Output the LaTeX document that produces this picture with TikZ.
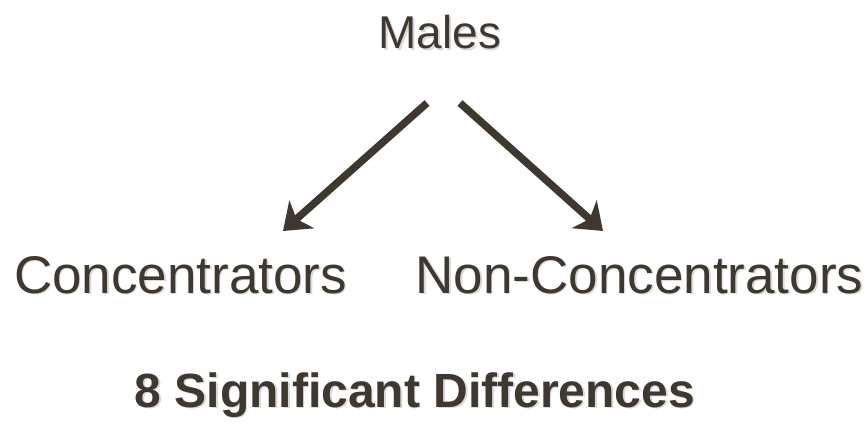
\documentclass[tikz,border=0pt]{standalone}
\usepackage{fontspec}
\setmainfont{Liberation Sans}
\usepackage{xcolor}
\usepackage{tikz}
\usetikzlibrary{arrows.meta, positioning}

\definecolor{darkbrown}{HTML}{3F3830}
\definecolor{shade}{HTML}{DCDAD7}

\tikzset{
    lbl/.style={anchor=base, inner sep=0pt, text=darkbrown},
    lblshadow/.style={anchor=base, inner sep=0pt, text=shade},
    big/.style={font=\fontsize{53}{60}\selectfont},
    mid/.style={font=\fontsize{46}{52}\selectfont},
    bold/.style={font=\fontsize{48}{54}\selectfont\bfseries},
    arr/.style={draw=darkbrown, line width=7.5pt, -{Stealth[length=25pt, width=37pt, inset=7pt]}}
}

\begin{document}
\begin{tikzpicture}[x=1pt, y=-1pt]
    \useasboundingbox (0,0) rectangle (867,425);
    % soft shadows under the texts
    \node[lblshadow, mid] (males-s) at (441.5,50.5) {Males};
    \node[lblshadow, big] (conc-s) at (182,294.5) {Concentrators};
    \node[lblshadow, big] (nonc-s) at (641,294.5) {Non-Concentrators};
    \node[lblshadow, bold] (diff-s) at (416.5,408.5) {8 Significant Differences};
    % texts
    \node[lbl, mid] (males) at (440,49) {Males};
    \node[lbl, big] (conc) at (180.5,293) {Concentrators};
    \node[lbl, big] (nonc) at (639.5,293) {Non-Concentrators};
    \node[lbl, bold] (diff) at (415,407) {8 Significant Differences};
    % arrow ends
    \coordinate (males-l) at (427,103);
    \coordinate (males-r) at (460,103);
    \coordinate (conc-tip) at (283,231);
    \coordinate (nonc-tip) at (603,231);
    \draw[arr] (males-l) -- (conc-tip);
    \draw[arr] (males-r) -- (nonc-tip);
\end{tikzpicture}
\end{document}
